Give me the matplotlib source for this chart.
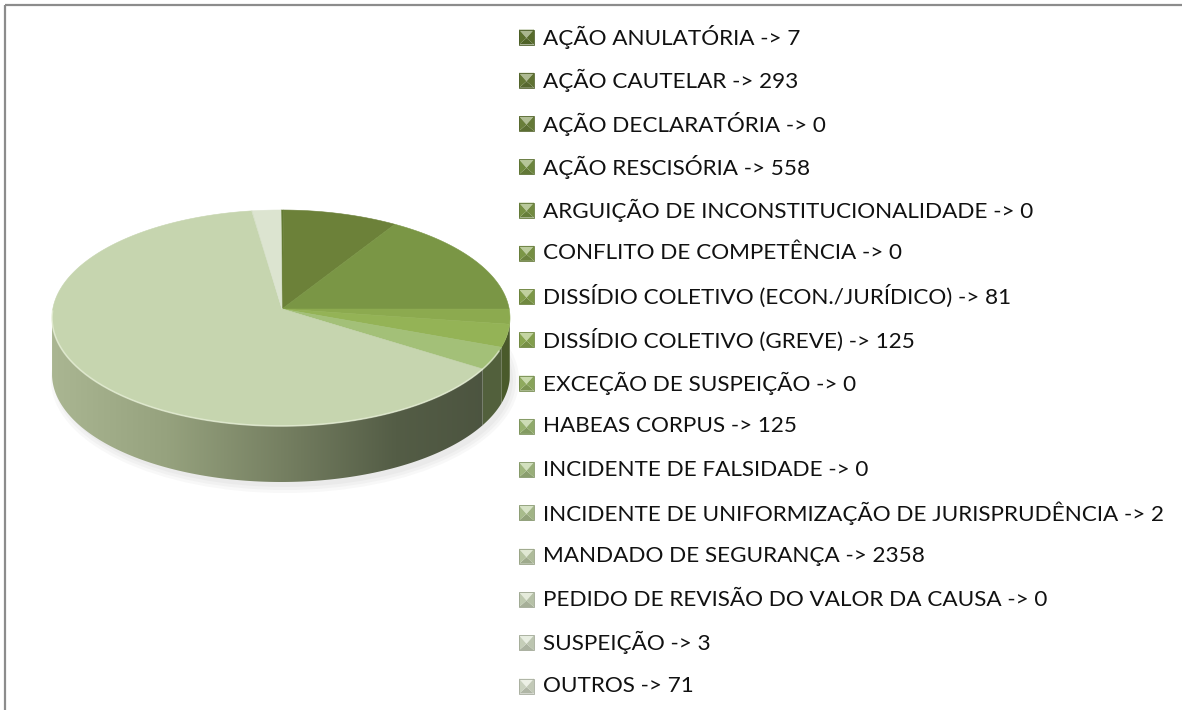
import numpy as np
import matplotlib
matplotlib.use("Agg")
import matplotlib.pyplot as plt
from matplotlib.patches import Polygon, Rectangle, Ellipse
from matplotlib.colors import to_rgb

categories = [
    "AÇÃO ANULATÓRIA",
    "AÇÃO CAUTELAR",
    "AÇÃO DECLARATÓRIA",
    "AÇÃO RESCISÓRIA",
    "ARGUIÇÃO DE INCONSTITUCIONALIDADE",
    "CONFLITO DE COMPETÊNCIA",
    "DISSÍDIO COLETIVO (ECON./JURÍDICO)",
    "DISSÍDIO COLETIVO (GREVE)",
    "EXCEÇÃO DE SUSPEIÇÃO",
    "HABEAS CORPUS",
    "INCIDENTE DE FALSIDADE",
    "INCIDENTE DE UNIFORMIZAÇÃO DE JURISPRUDÊNCIA",
    "MANDADO DE SEGURANÇA",
    "PEDIDO DE REVISÃO DO VALOR DA CAUSA",
    "SUSPEIÇÃO",
    "OUTROS",
]
values = [7, 293, 0, 558, 0, 0, 81, 125, 0, 125, 0, 2, 2358, 0, 3, 71]

colors = ["#637a32", "#6c8139", "#72893f", "#7a9645", "#809d49", "#86a34c",
          "#8caa4f", "#94b356", "#9bb966", "#a3c078", "#adc689", "#b7cc98",
          "#c6d5af", "#cfdbbe", "#d6e0c8", "#dce4d0"]

W, H = 1182, 710
fig = plt.figure(figsize=(W / 100, H / 100), dpi=100)
ax = fig.add_axes([0, 0, 1, 1])
ax.set_xlim(0, W)
ax.set_ylim(H, 0)
ax.axis("off")

# outer frame (only left/top visible)
ax.add_patch(Rectangle((5, 5), 1400, 900, fill=False, ec="#8c8c8c", lw=1.6))

# pie geometry (pixels)
cx, cy = 281, 318
apx, apy = 282, 309
a, b = 229, 108
depth = 56


def ell(t, dy=0):
    return cx + a * np.cos(t), cy - b * np.sin(t) + dy


def shade(c, f):
    r, g, bb = to_rgb(c)
    return (r * f, g * f, bb * f)


total = float(sum(values))
bounds = np.cumsum([0] + values) / total
angles = np.pi / 2 - 2 * np.pi * bounds  # clockwise from 12 o'clock

# soft shadow
for k, al in enumerate([0.05, 0.05, 0.05]):
    ax.add_patch(Ellipse((cx + 4, cy + depth + 6), 2 * a + 10 - 6 * k, 2 * b + 10 - 6 * k,
                         color="#777777", alpha=al, lw=0))

# side walls
grad_stops = np.array([[170, 182, 146], [150, 162, 126], [118, 128, 98],
                       [84, 93, 70], [74, 82, 62]]) / 255.0
for i, v in enumerate(values):
    if v == 0:
        continue
    t0, t1 = angles[i], angles[i + 1]
    # visible front part: sin(t) < 0
    ts = np.linspace(t0, t1, 200)
    ts = ts[np.sin(ts) <= 0]
    if len(ts) < 2:
        continue
    xt, yt = ell(ts)
    xb, yb = ell(ts[::-1], depth)
    pts = np.column_stack([np.r_[xt, xb], np.r_[yt, yb]])
    if i == 12:
        poly = Polygon(pts, closed=True, fc="none", ec="none")
        ax.add_patch(poly)
        xs = np.linspace(0, 1, 300)
        grad = np.stack([np.interp(xs, np.linspace(0, 1, 5), grad_stops[:, c]) for c in range(3)], axis=-1)
        im = ax.imshow(grad[None, :, :], extent=[cx - a, cx + a, cy + b + depth + 5, cy - 5],
                       aspect="auto", interpolation="bilinear", zorder=2)
        im.set_clip_path(poly)
    else:
        ax.add_patch(Polygon(pts, closed=True, fc=shade(colors[i], 0.5), ec="none", zorder=2))

# top wedges
for i, v in enumerate(values):
    if v == 0:
        continue
    ts = np.linspace(angles[i], angles[i + 1], max(3, int(abs(angles[i + 1] - angles[i]) * 80)))
    xs, ys = ell(ts)
    pts = np.column_stack([np.r_[apx, xs], np.r_[apy, ys]])
    ax.add_patch(Polygon(pts, closed=True, fc=colors[i], ec=colors[i], lw=0.4, zorder=3))

# light rim on front edge of top
tr = np.linspace(np.pi * 0.98, np.pi * 1.9, 200)
xr, yr = ell(tr)
ax.plot(xr, yr, color="#eef5e0", lw=1.2, alpha=0.6, zorder=4)

# legend
row0, row_step = 37, 43.27
for i, (name, v) in enumerate(zip(categories, values)):
    y = row0 + i * row_step
    x0, x1 = 519, 534
    y0, y1 = y - 7.5, y + 7.5
    mx, my = (x0 + x1) / 2, y + 1
    c = colors[i]
    r, g, bb = to_rgb(c)
    light = (r + (1 - r) * 0.45, g + (1 - g) * 0.45, bb + (1 - bb) * 0.45)
    ax.add_patch(Polygon([[x0, y0], [x1, y0], [mx, my]], fc=light, ec="none", zorder=5))
    ax.add_patch(Polygon([[x0, y1], [x1, y1], [mx, my]], fc=shade(c, 0.8), ec="none", zorder=5))
    ax.add_patch(Polygon([[x0, y0], [x0, y1], [mx, my]], fc=shade(c, 0.92), ec="none", zorder=5))
    ax.add_patch(Polygon([[x1, y0], [x1, y1], [mx, my]], fc=shade(c, 0.88), ec="none", zorder=5))
    ax.add_patch(Rectangle((x0, y0), x1 - x0, y1 - y0, fill=False, ec=shade(c, 0.75), lw=0.6, zorder=6))
    ax.text(543, y, f"{name} -> {v}", va="center", ha="left", fontsize=16.2,
            family=["Lato", "DejaVu Sans"], color="#111111")

fig.savefig("out.png", dpi=100)
